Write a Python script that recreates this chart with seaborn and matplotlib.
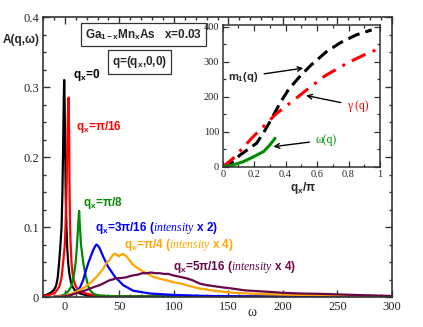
import numpy as np
import matplotlib
matplotlib.use("Agg")
import matplotlib.pyplot as plt
import seaborn as sns
from matplotlib.ticker import MultipleLocator, FuncFormatter

# spectral function A(q, w)
w_q0 = [-20, -17, -13, -10, -8, -6.5, -5.2, -4, -3, -2.2, -1.5, -1, -0.6, -0.2, 0.3, 0.9, 1.5, 2.2, 3, 4, 5.5, 7, 9, 12, 16, 22, 35, 300]
a_q0 = [0.002, 0.003, 0.006, 0.01, 0.016, 0.028, 0.05, 0.075, 0.1, 0.15, 0.22, 0.28, 0.31, 0.28, 0.21, 0.14, 0.1, 0.07, 0.05, 0.035, 0.022, 0.015, 0.01, 0.006, 0.004, 0.002, 0.001, 0.0]

w_q1 = [-20, -14, -9, -5, -3, -1.5, 0, 0.6, 1.5, 2.2, 2.8, 3.5, 3.9, 4.3, 4.6, 5.2, 6.1, 7, 8, 10, 13, 17, 22, 30, 45, 300]
a_q1 = [0.001, 0.003, 0.006, 0.015, 0.028, 0.05, 0.075, 0.1, 0.15, 0.21, 0.26, 0.285, 0.24, 0.16, 0.12, 0.08, 0.05, 0.035, 0.025, 0.015, 0.009, 0.006, 0.004, 0.002, 0.001, 0.0]

w_q2 = [-10, -3, 0, 3, 6, 8, 10, 11.3, 12.3, 13.1, 13.9, 14.7, 16, 16.8, 18.5, 20, 21.5, 24, 27, 32, 45, 300]
a_q2 = [0.0005, 0.002, 0.004, 0.008, 0.015, 0.028, 0.05, 0.077, 0.105, 0.123, 0.1, 0.077, 0.06, 0.05, 0.035, 0.025, 0.015, 0.008, 0.004, 0.002, 0.001, 0.0]

w_q3 = [-10, 1.5, 6, 10.7, 14, 16.8, 19, 21.4, 24, 26, 28, 29, 30.5, 32, 35.2, 39.8, 45.9, 53.5, 62.7, 78, 99, 130, 170, 300]
a_q3 = [0.0005, 0.002, 0.004, 0.0076, 0.014, 0.024, 0.036, 0.048, 0.059, 0.067, 0.073, 0.075, 0.073, 0.0695, 0.0576, 0.043, 0.029, 0.017, 0.009, 0.005, 0.003, 0.0015, 0.0007, 0.0]

w_q4 = [-10, 0, 5, 10.7, 17, 23, 28, 32, 35, 38, 41, 44, 46, 48, 49.5, 51, 53.5, 56.5, 60, 62.7, 66, 69, 75, 81, 87, 93, 100, 108, 116, 124, 139, 155, 175, 200, 230, 260, 300]
a_q4 = [0.0005, 0.002, 0.004, 0.0076, 0.013, 0.0195, 0.027, 0.034, 0.04, 0.048, 0.053, 0.06, 0.062, 0.06, 0.058, 0.06, 0.0614, 0.058, 0.051, 0.046, 0.042, 0.039, 0.034, 0.029, 0.026, 0.024, 0.021, 0.0186, 0.015, 0.012, 0.0085, 0.006, 0.0045, 0.0035, 0.0025, 0.002, 0.0012]

w_q5 = [-10, 0, 6, 12, 18, 23, 28, 32, 36, 41, 44, 47, 51, 56, 60, 63, 67, 71, 75, 79, 83, 87, 91, 95, 99, 105, 111, 117, 124, 130, 139, 146, 154, 165, 175, 185, 200, 216, 235, 255, 275, 300]
a_q5 = [0.0, 0.001, 0.003, 0.006, 0.009, 0.012, 0.015, 0.017, 0.02, 0.024, 0.025, 0.027, 0.027, 0.028, 0.03, 0.031, 0.032, 0.034, 0.034, 0.035, 0.034, 0.034, 0.033, 0.033, 0.031, 0.029, 0.027, 0.024, 0.019, 0.017, 0.015, 0.0135, 0.012, 0.0095, 0.0085, 0.0076, 0.006, 0.005, 0.0045, 0.0035, 0.0025, 0.0015]

# inset: m1(q), gamma(q), omega(q) versus qx/pi
q_m1 = [0, 0.05, 0.11, 0.16, 0.216, 0.26, 0.30, 0.364, 0.42, 0.49, 0.56, 0.66, 0.75, 0.85, 0.947]
m1 = [0, 10, 34, 50, 68, 98, 129, 182, 222, 258, 290, 329, 355, 377, 391]
q_gam = [0, 0.067, 0.195, 0.343, 0.45, 0.534, 0.65, 0.79, 0.9, 1.0]
gam = [0, 25, 87, 153, 190, 220, 260, 296, 320, 339]
q_om = [0, 0.067, 0.13, 0.195, 0.26, 0.3, 0.333]
om = [0, 6, 15, 29, 44, 63, 82]

curves = [
    (w_q0, a_q0, "black", r"$\mathbf{q_x}$=0", 7.1, 0.317),
    (w_q1, a_q1, "#ff0000", r"$\mathbf{q_x}$=π/16", 10.7, 0.243),
    (w_q2, a_q2, "#008b00", r"$\mathbf{q_x}$=π/8", 16.8, 0.134),
    (w_q3, a_q3, "#0000ff", r"$\mathbf{q_x}$=3π/16 ($\mathit{intensity}$ x 2)", 27.5, 0.0986),
    (w_q4, a_q4, "#ffa500", r"$\mathbf{q_x}$=π/4 ($\mathit{intensity}$ x 4)", 54, 0.0743),
    (w_q5, a_q5, "#670748", r"$\mathbf{q_x}$=5π/16 ($\mathit{intensity}$ x 4)", 99, 0.0429),
]

sns.set_style("ticks")
plt.rcParams["font.family"] = ["Liberation Sans", "DejaVu Sans"]
plt.rcParams["mathtext.fontset"] = "custom"
plt.rcParams["mathtext.bf"] = "Liberation Sans:bold"
plt.rcParams["mathtext.rm"] = "Liberation Sans:bold"
plt.rcParams["mathtext.it"] = "Liberation Serif:italic"

fig = plt.figure(figsize=(4.23, 3.27), dpi=100)
ax = fig.add_axes([0.1017, 0.0917, 0.825, 0.8563])

for w, a, col, lab, tx, ty in curves:
    sns.lineplot(x=w, y=a, ax=ax, color=col, lw=1.6)
    ax.text(tx, ty, lab, color=col, fontsize=8.5, fontweight="bold", ha="left", va="center")

ax.set_xlim(-20, 300)
ax.set_ylim(0, 0.4)
ax.xaxis.set_major_locator(MultipleLocator(50))
ax.xaxis.set_minor_locator(MultipleLocator(10))
ax.yaxis.set_major_locator(MultipleLocator(0.1))
ax.yaxis.set_minor_locator(MultipleLocator(0.025))
fmt = FuncFormatter(lambda v, p: f"{v:g}")
ax.xaxis.set_major_formatter(fmt)
ax.yaxis.set_major_formatter(fmt)
ax.tick_params(which="both", direction="in", top=True, right=True, color="#333333", width=1)
ax.tick_params(which="major", length=5, pad=3)
ax.tick_params(which="minor", length=2.5)
for t in ax.get_xticklabels() + ax.get_yticklabels():
    t.set_fontfamily("Liberation Serif")
    t.set_fontsize(9)
for s in ax.spines.values():
    s.set_color("#333333")
    s.set_linewidth(1.2)
ax.set_xlabel("")
ax.set_ylabel("")

box = dict(boxstyle="square,pad=0.35", fc="white", ec="#333333", lw=0.9)
ax.text(72, 0.375, r"Ga$_\mathbf{1-x}$Mn$_\mathbf{x}$As   x=0.03", fontsize=8.5, fontweight="bold",
        ha="center", va="center", bbox=box)
ax.text(68.5, 0.336, r"q=($\mathbf{q_x}$,0,0)", fontsize=8.5, fontweight="bold",
        ha="center", va="center", bbox=box)

fig.text(0.007, 0.878, "A(q,ω)", fontsize=8.5, fontweight="bold", ha="left", va="center")
fig.text(0.596, 0.043, "ω", fontsize=10, family="Liberation Serif", ha="center", va="center")

# inset
axi = fig.add_axes([0.5265, 0.4893, 0.3718, 0.4342])
axi.set_facecolor("white")
sns.lineplot(x=q_m1, y=m1, ax=axi, color="black", lw=2.2, linestyle=(0, (4, 2)))
sns.lineplot(x=q_gam, y=gam, ax=axi, color="#ff0000", lw=2.2, linestyle=(0, (5, 2.5, 1, 2.5)))
sns.lineplot(x=q_om, y=om, ax=axi, color="#008b00", lw=2.2)
axi.set_xlim(0, 1)
axi.set_ylim(0, 405)
axi.xaxis.set_major_locator(MultipleLocator(0.2))
axi.xaxis.set_minor_locator(MultipleLocator(0.1))
axi.yaxis.set_major_locator(MultipleLocator(100))
axi.yaxis.set_minor_locator(MultipleLocator(50))
axi.xaxis.set_major_formatter(fmt)
axi.yaxis.set_major_formatter(fmt)
axi.tick_params(which="both", direction="in", top=True, right=True, color="#333333", width=0.9)
axi.tick_params(which="major", length=4, pad=2.5)
axi.tick_params(which="minor", length=2)
for t in axi.get_xticklabels() + axi.get_yticklabels():
    t.set_fontfamily("Liberation Serif")
    t.set_fontsize(7.5)
for s in axi.spines.values():
    s.set_color("#333333")
    s.set_linewidth(1.1)
axi.set_xlabel("")
axi.set_ylabel("")

arrow = dict(arrowstyle="->", color="black", lw=1.0, shrinkA=2, shrinkB=0)
axi.annotate(r"m$_\mathbf{1}$(q)", xy=(0.512, 282), xytext=(0.129, 257), fontsize=8, fontweight="bold",
             ha="center", va="center", arrowprops=arrow)
axi.annotate("γ (q)", xy=(0.53, 204), xytext=(0.857, 174), fontsize=8.5, color="#ff0000",
             family="Liberation Serif", ha="center", va="center", arrowprops=arrow)
axi.annotate("ω(q)", xy=(0.322, 58), xytext=(0.657, 77), fontsize=8.5, color="#008b00",
             family="Liberation Serif", ha="center", va="center", arrowprops=arrow)

fig.text(0.716, 0.424, r"$\mathbf{q_x}$/π", fontsize=8.5, fontweight="bold", ha="center", va="center")

fig.savefig("out.png", dpi=100)
